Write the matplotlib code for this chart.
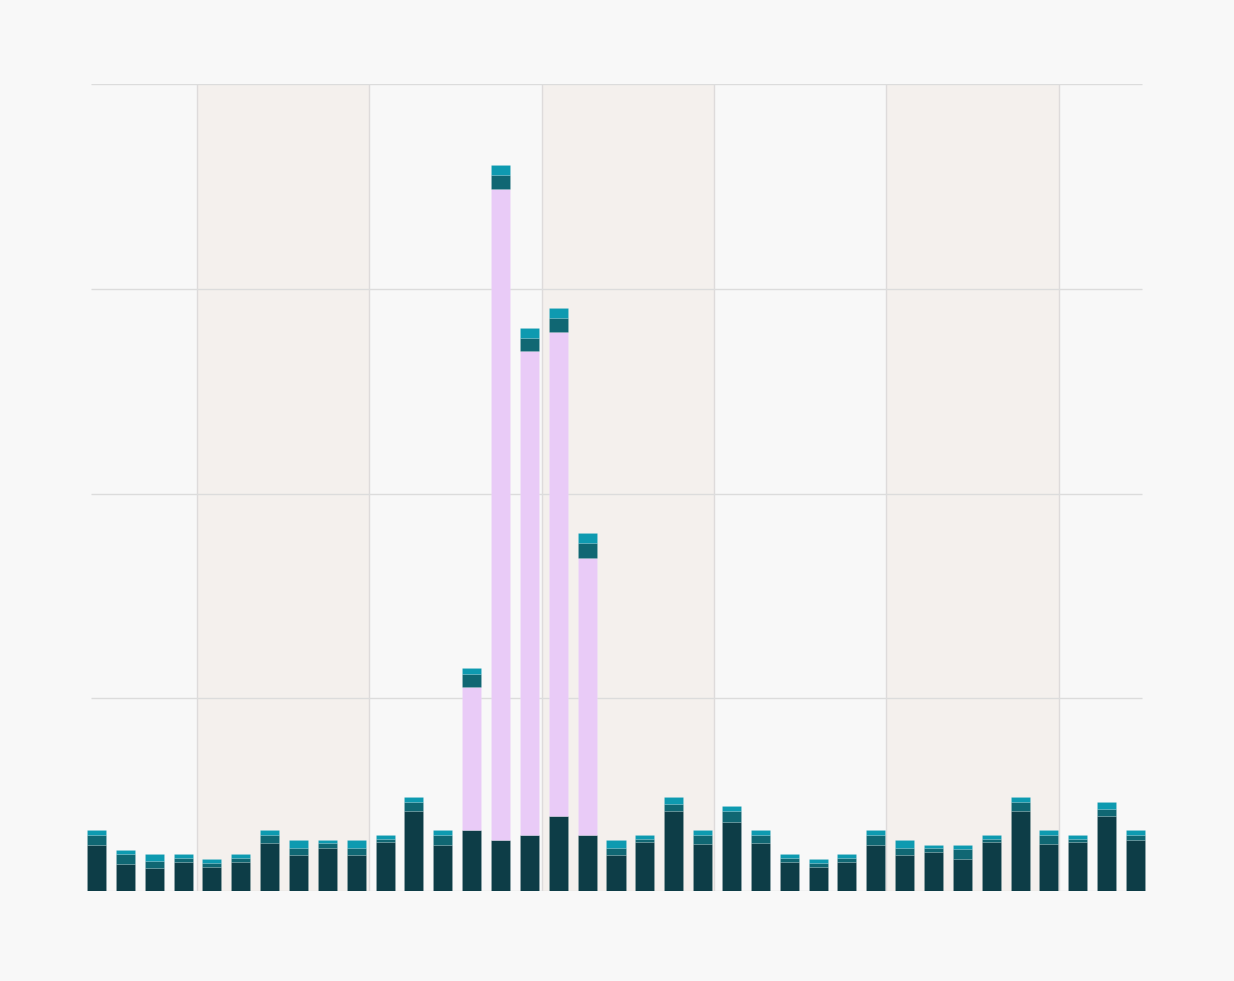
import matplotlib
matplotlib.use("Agg")
import matplotlib.pyplot as plt
import numpy as np

# stacked values per bar (bottom to top)
base = [11.2, 6.6, 5.5, 7.1, 5.9, 7.1, 11.8, 8.8, 10.6, 8.8, 12.0, 19.5, 11.2,
        14.8, 12.4, 13.7, 18.3, 13.7, 8.8, 11.9, 19.5, 11.5, 16.9, 11.8, 7.1,
        5.9, 7.1, 11.2, 8.8, 9.6, 7.8, 11.9, 19.5, 11.5, 11.9, 18.3, 12.4]
surge = [0, 0, 0, 0, 0, 0, 0, 0, 0, 0, 0, 0, 0,
         35.0, 159.0, 118.0, 118.1, 67.7, 0, 0, 0, 0, 0, 0, 0,
         0, 0, 0, 0, 0, 0, 0, 0, 0, 0, 0, 0]
mid = [2.4, 2.4, 1.8, 1.0, 1.0, 1.0, 1.9, 1.8, 1.0, 1.8, 0.7, 2.3, 2.4,
       3.1, 3.5, 3.4, 3.5, 3.5, 1.8, 0.8, 1.7, 2.1, 2.6, 1.9, 1.0,
       1.0, 1.0, 2.4, 1.8, 1.0, 2.4, 0.8, 2.3, 2.1, 0.8, 1.7, 1.2]
top = [1.2, 1.1, 1.7, 0.9, 0.9, 0.9, 1.2, 1.9, 0.9, 1.9, 1.0, 1.2, 1.2,
       1.6, 2.4, 2.4, 2.3, 2.4, 1.9, 1.0, 1.8, 1.2, 1.2, 1.2, 0.9,
       0.9, 0.9, 1.2, 1.9, 0.7, 1.1, 1.0, 1.2, 1.2, 1.0, 1.8, 1.2]

# shaded period boundaries (in bar index units) and grid values
bands = [(3.48, 9.45), (15.42, 21.41), (27.37, 33.36)]
grid_y = [0, 47, 97, 147, 197]

fig = plt.figure(figsize=(12.34, 9.81), dpi=100)
fig.patch.set_facecolor("#f8f8f8")
ax = fig.add_axes([82 / 1234, 1 - 891 / 981, (1150 - 82) / 1234, (891 - 84) / 981])
ax.set_facecolor("#f8f8f8")

x = np.arange(len(base))
ax.set_xlim(-0.5, len(base) - 0.5)
ax.set_ylim(0, 197)

for a, b in bands:
    ax.axvspan(a, b, color="#f4f0ed", zorder=0, lw=0)
for e in [v for pair in bands for v in pair]:
    ax.vlines(e, 0, 197, color="#dedbdb", lw=1, zorder=1)
ax.hlines(grid_y, -0.19, 36.23, color="#dcdcdc", lw=1, zorder=1)

colors = ["#0d3d47", "#e9cbf7", "#106773", "#0e9ab0"]
bottom = np.zeros(len(base))
for vals, c in zip([base, surge, mid, top], colors):
    vals = np.array(vals)
    ax.bar(x, vals, bottom=bottom, width=0.66, color=c,
           edgecolor=(1, 1, 1, 0.12), linewidth=0.5, zorder=3)
    bottom += vals

for s in ax.spines.values():
    s.set_visible(False)
ax.set_xticks([])
ax.set_yticks([])

fig.savefig("out.png", dpi=100, facecolor=fig.get_facecolor())
